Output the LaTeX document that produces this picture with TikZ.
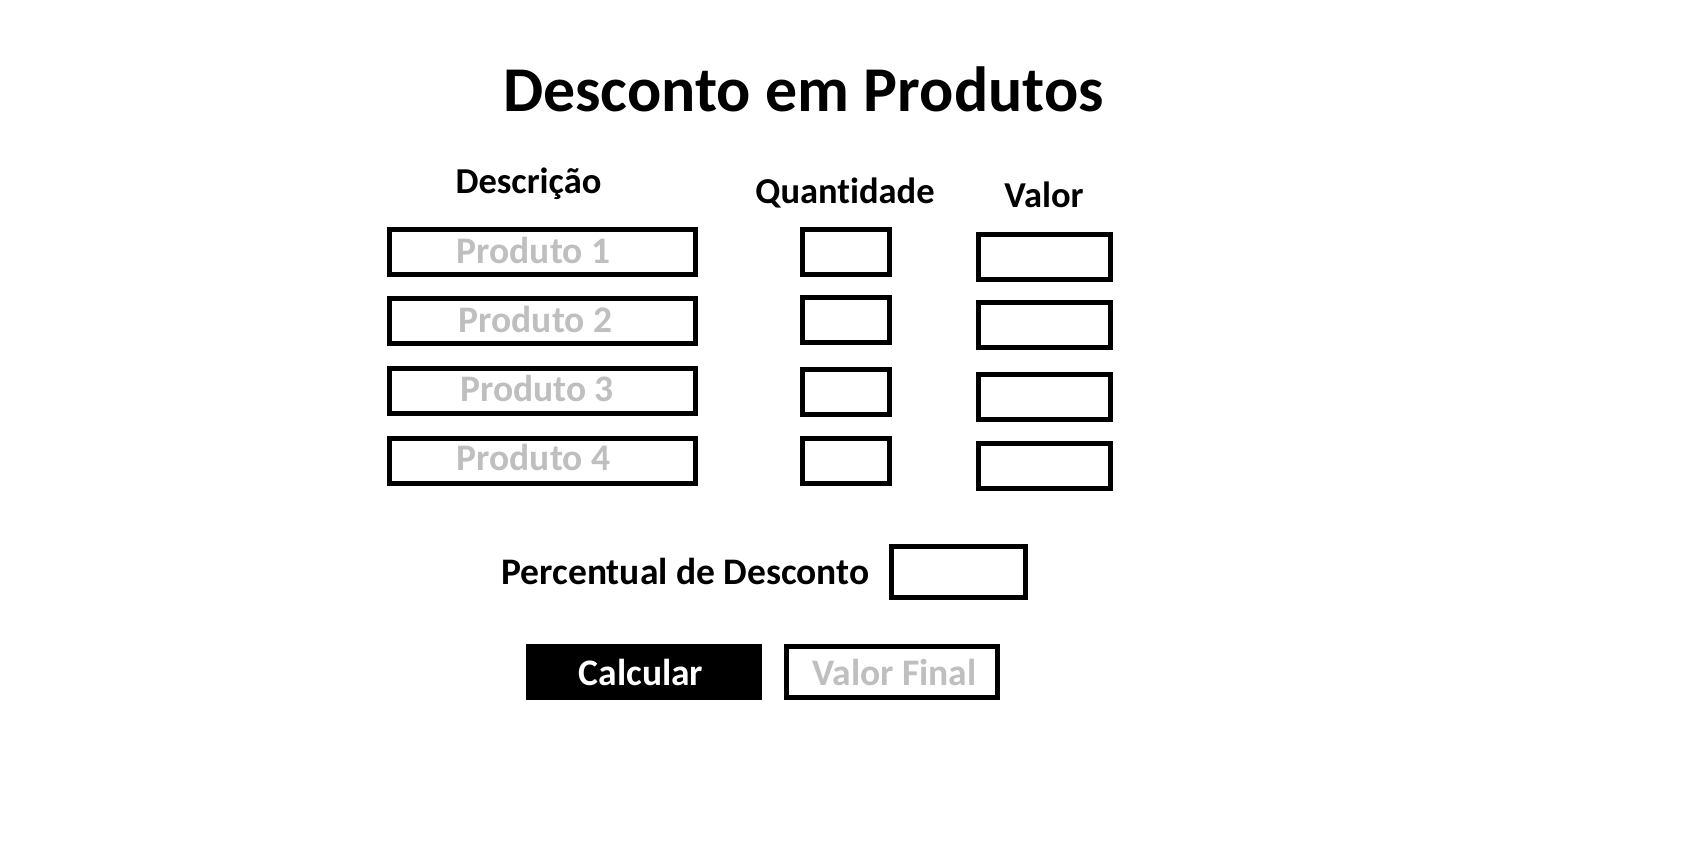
\documentclass[tikz,border=0pt]{standalone}
\usepackage{fontspec}
\setmainfont{Carlito}[Ligatures=NoCommon]
\definecolor{ghost}{RGB}{191,191,191}
\begin{document}
\begin{tikzpicture}[x=1pt,y=-1pt,
  box/.style={draw=black,line width=5pt,inner sep=0pt,fill=white},
  txt/.style={inner sep=0pt,font=\bfseries},
  head/.style={txt,font=\bfseries\fontsize{36.5}{36.5}\selectfont},
  ptext/.style={txt,text=ghost,font=\bfseries\fontsize{37.5}{37.5}\selectfont}]
\useasboundingbox[fill=white] (0,0) rectangle (1685,847);
\node[txt,anchor=base,font=\bfseries\fontsize{63.8}{63.8}\selectfont] (title) at (803.5,111) {Desconto em Produtos};
\node[head,anchor=base] (hdesc) at (528.5,193) {Descrição};
\node[head,anchor=base] (hqty) at (845,203) {Quantidade};
\node[head,anchor=base] (hval) at (1044,207.3) {Valor};
% description boxes
\node[box,minimum width=306pt,minimum height=45pt] (d1) at (542.5,252) {};
\node[box,minimum width=306pt,minimum height=45pt] (d2) at (542.5,321) {};
\node[box,minimum width=306pt,minimum height=45pt] (d3) at (542.5,391) {};
\node[box,minimum width=306pt,minimum height=45pt] (d4) at (542.5,461) {};
\node[ptext,anchor=base] (t1) at (533.5,263.3) {Produto 1};
\node[ptext,anchor=base] (t2) at (535.5,332.3) {Produto 2};
\node[ptext,anchor=base] (t3) at (537,401.7) {Produto 3};
\node[ptext,anchor=base] (t4) at (533.5,470.7) {Produto 4};
% quantity boxes
\node[box,minimum width=87pt,minimum height=45pt] (q1) at (846,252) {};
\node[box,minimum width=87pt,minimum height=45pt] (q2) at (846,320) {};
\node[box,minimum width=87pt,minimum height=45pt] (q3) at (846,392) {};
\node[box,minimum width=87pt,minimum height=45pt] (q4) at (846,461) {};
% value boxes
\node[box,minimum width=132pt,minimum height=45pt] (v1) at (1044.5,257) {};
\node[box,minimum width=132pt,minimum height=45pt] (v2) at (1044.5,325) {};
\node[box,minimum width=132pt,minimum height=45pt] (v3) at (1044.5,397) {};
\node[box,minimum width=132pt,minimum height=45pt] (v4) at (1044.5,465.7) {};
% discount
\node[txt,anchor=base,font=\bfseries\fontsize{37.5}{37.5}\selectfont] (perc) at (685.5,584.5) {Percentual de Desconto};
\node[box,minimum width=133.5pt,minimum height=51.5pt] (pbox) at (958.3,571.8) {};
% buttons
\node[fill=black,inner sep=0pt,minimum width=236.3pt,minimum height=56pt] (calc) at (644,671.5) {};
\node[txt,anchor=base,text=white,font=\bfseries\fontsize{37.5}{37.5}\selectfont] (calct) at (641,685.5) {Calcular};
\node[box,minimum width=211.4pt,minimum height=51pt] (vf) at (891.8,671.5) {};
\node[ptext,anchor=base] (vft) at (894.5,685.5) {Valor Final};
\end{tikzpicture}
\end{document}
